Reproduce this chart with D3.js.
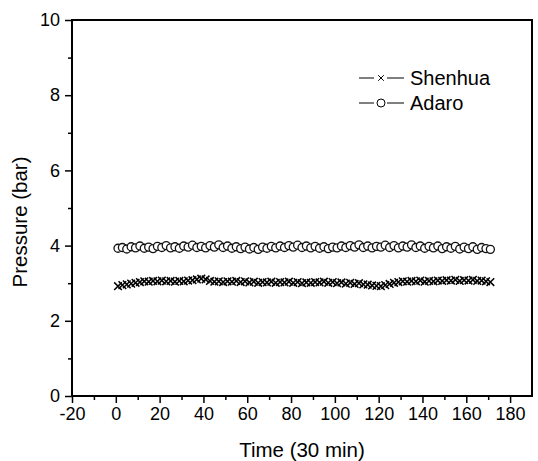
<!DOCTYPE html>
<html>
<head>
<meta charset="utf-8">
<script src="https://cdn.jsdelivr.net/npm/d3@7"></script>
<style>
  body { margin: 0; background: #fff; }
  svg { display: block; font-family: "Liberation Sans", Arial, sans-serif; }
</style>
</head>
<body>
<div id="chart"></div>
<script>
// time points (30 min steps)
var times = [];
for (var t = 1; t <= 171; t += 2) times.push(t);

var shenhua = [
  2.92, 2.95, 2.97, 2.99, 3.01, 3.03, 3.05, 3.04, 3.06, 3.05,
  3.07, 3.05, 3.06, 3.04, 3.06, 3.05, 3.07, 3.08, 3.10, 3.12,
  3.10, 3.06, 3.04, 3.05, 3.03, 3.05, 3.04, 3.06, 3.03, 3.05,
  3.02, 3.04, 3.01, 3.03, 3.02, 3.04, 3.01, 3.03, 3.02, 3.04,
  3.01, 3.03, 3.00, 3.02, 3.01, 3.03, 3.02, 3.04, 3.01, 3.03,
  3.00, 3.02, 2.99, 3.01, 2.98, 3.00, 2.97, 2.96, 2.94, 2.93,
  2.92, 2.95, 2.98, 3.01, 3.03, 3.05, 3.04, 3.06, 3.05, 3.07,
  3.04, 3.06, 3.05, 3.07, 3.06, 3.08, 3.07, 3.09, 3.06, 3.08,
  3.07, 3.09, 3.06, 3.07, 3.05, 3.03
];

var adaro = [
  3.93, 3.95, 3.91, 3.97, 3.94, 3.99, 3.93, 3.96, 3.92, 3.98,
  3.95, 4.00, 3.94, 3.97, 3.93, 3.99, 3.96, 4.01, 3.95, 3.98,
  3.94, 4.00, 3.96, 4.02, 3.95, 3.99, 3.93, 3.97, 3.92, 3.96,
  3.91, 3.95, 3.90, 3.96, 3.93, 3.98, 3.94, 3.99, 3.95, 4.00,
  3.96, 4.01, 3.95, 3.99, 3.94, 3.98, 3.93, 3.97, 3.92, 3.96,
  3.94, 3.99, 3.95, 4.00, 3.96, 4.02, 3.95, 3.99, 3.94, 3.98,
  3.96, 4.01, 3.95, 4.00, 3.94, 3.99, 3.96, 4.02, 3.95, 3.99,
  3.93, 3.98, 3.94, 3.99, 3.92, 3.97, 3.93, 3.98, 3.91, 3.96,
  3.92, 3.97, 3.90, 3.95, 3.92, 3.90
];

var xTicks = [-20, 0, 20, 40, 60, 80, 100, 120, 140, 160, 180];
var yTicks = [0, 2, 4, 6, 8, 10];
var seriesNames = ["Shenhua", "Adaro"];

var width = 538,
    height = 461,
    margin = {top: 20, right: 6, bottom: 65, left: 72};

var x = d3.scaleLinear().domain([-20, 190]).range([margin.left, width - margin.right]);
var y = d3.scaleLinear().domain([0, 10]).range([height - margin.bottom, margin.top]);

var svg = d3.select("#chart").append("svg")
    .attr("width", width)
    .attr("height", height);

// frame
svg.append("rect")
    .attr("x", x(-20))
    .attr("y", y(10))
    .attr("width", x(190) - x(-20))
    .attr("height", y(0) - y(10))
    .attr("fill", "none")
    .attr("stroke", "#000")
    .attr("stroke-width", 2);

// minor ticks
var xMinor = d3.range(-10, 190, 20);
svg.append("g")
    .attr("transform", "translate(0," + y(0) + ")")
    .call(d3.axisBottom(x).tickValues(xMinor).tickSize(4).tickFormat(""))
    .call(function(g) { g.select(".domain").remove(); })
    .selectAll("line").attr("stroke-width", 1.5);

var yMinor = d3.range(1, 10, 2);
svg.append("g")
    .attr("transform", "translate(" + x(-20) + ",0)")
    .call(d3.axisLeft(y).tickValues(yMinor).tickSize(4).tickFormat(""))
    .call(function(g) { g.select(".domain").remove(); })
    .selectAll("line").attr("stroke-width", 1.5);

// major ticks
var plain = function(d) { return String(d); };

var xAxis = svg.append("g")
    .attr("transform", "translate(0," + y(0) + ")")
    .call(d3.axisBottom(x).tickValues(xTicks).tickSize(7).tickPadding(4).tickFormat(plain));
xAxis.select(".domain").remove();
xAxis.selectAll("line").attr("stroke-width", 1.5);
xAxis.selectAll("text").attr("font-size", 18).attr("font-family", "Liberation Sans, Arial, sans-serif").attr("fill", "#000");

var yAxis = svg.append("g")
    .attr("transform", "translate(" + x(-20) + ",0)")
    .call(d3.axisLeft(y).tickValues(yTicks).tickSize(7).tickPadding(5).tickFormat(plain));
yAxis.select(".domain").remove();
yAxis.selectAll("line").attr("stroke-width", 1.5);
yAxis.selectAll("text").attr("font-size", 18).attr("font-family", "Liberation Sans, Arial, sans-serif").attr("fill", "#000");

// axis titles
svg.append("text")
    .attr("x", (x(-20) + x(190)) / 2)
    .attr("y", 457)
    .attr("text-anchor", "middle")
    .attr("font-size", 20.5)
    .text("Time (30 min)");

svg.append("text")
    .attr("transform", "translate(27," + ((y(0) + y(10)) / 2 + 14) + ") rotate(-90)")
    .attr("text-anchor", "middle")
    .attr("font-size", 20.5)
    .text("Pressure (bar)");

// Adaro circles
svg.append("g").selectAll("circle")
    .data(adaro)
  .enter().append("circle")
    .attr("cx", function(d, i) { return x(times[i]); })
    .attr("cy", function(d) { return y(d); })
    .attr("r", 4)
    .attr("fill", "#fff")
    .attr("stroke", "#111")
    .attr("stroke-width", 1.3);

// Shenhua crosses
var cross = d3.symbol().type(d3.symbolTimes).size(40);
svg.append("g").selectAll("path")
    .data(shenhua)
  .enter().append("path")
    .attr("d", cross)
    .attr("transform", function(d, i) { return "translate(" + x(times[i]) + "," + y(d) + ")"; })
    .attr("fill", "#000")
    .attr("stroke", "#000")
    .attr("stroke-width", 1.5);

// legend
var legend = svg.append("g").attr("transform", "translate(359,78)");
var leg = legend.selectAll("g")
    .data(seriesNames)
  .enter().append("g")
    .attr("transform", function(d, i) { return "translate(0," + i * 25 + ")"; });

leg.append("line")
    .attr("x1", 0).attr("x2", 15)
    .attr("stroke", "#000").attr("stroke-width", 1);
leg.append("line")
    .attr("x1", 28).attr("x2", 45)
    .attr("stroke", "#000").attr("stroke-width", 1);

leg.filter(function(d) { return d == "Shenhua"; }).append("path")
    .attr("d", d3.symbol().type(d3.symbolTimes).size(22))
    .attr("transform", "translate(22,0)")
    .attr("stroke", "#000").attr("stroke-width", 1);
leg.filter(function(d) { return d == "Adaro"; }).append("circle")
    .attr("cx", 22).attr("r", 4)
    .attr("fill", "#fff").attr("stroke", "#000").attr("stroke-width", 1);

leg.append("text")
    .attr("x", 51)
    .attr("dy", "0.35em")
    .attr("font-size", 20)
    .text(function(d) { return d; });
</script>
</body>
</html>
